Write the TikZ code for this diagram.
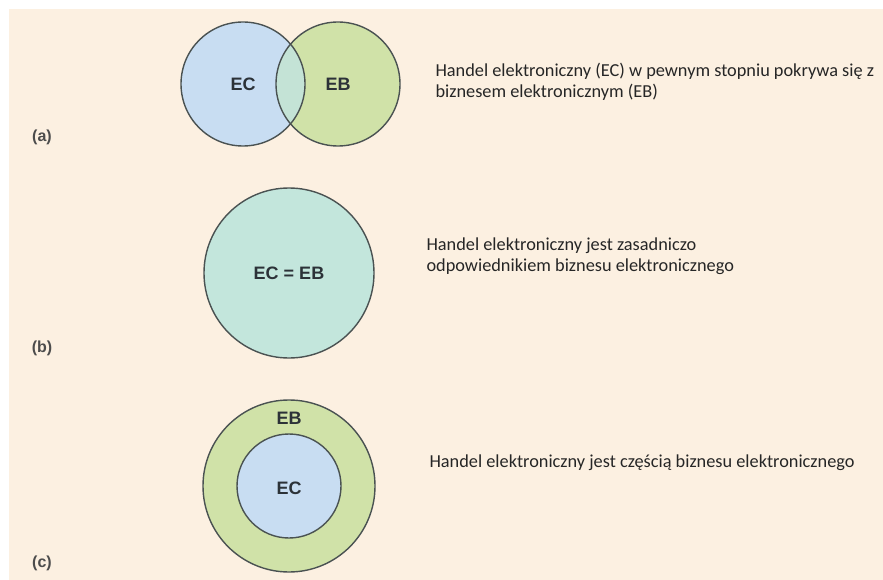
\documentclass[tikz,border=0pt]{standalone}
\usepackage{fontspec}
\setmainfont{Carlito}
\newfontfamily\labelfont{Liberation Sans}
\usepackage{tikz}

\definecolor{tlo}{HTML}{FCF0E1}
\definecolor{niebieski}{HTML}{C8DDF2}
\definecolor{zielony}{HTML}{D0E2A8}
\definecolor{wspolny}{HTML}{C4E3D6}
\definecolor{rowny}{HTML}{C3E6DC}
\definecolor{obrys}{HTML}{4A5252}
\definecolor{napis}{HTML}{2C3238}

\tikzset{
  zbior/.style={draw=obrys,line width=1.4pt},
  etykieta/.style={font=\labelfont\bfseries\fontsize{18}{20}\selectfont,text=napis},
  litera/.style={font=\labelfont\bfseries\fontsize{16}{18}\selectfont,text=black!70},
  opis/.style={font=\fontsize{18.3}{21}\selectfont,text=black!85,align=left,anchor=west}
}

\begin{document}
\begin{tikzpicture}[x=1pt,y=-1pt]
\useasboundingbox (0,0) rectangle (883,580);
\fill[tlo] (9,9) rectangle (883,580);

% (a) EC czesciowo pokrywa sie z EB
\fill[niebieski] (243,84) circle (62);
\fill[zielony] (338,84) circle (62);
\begin{scope}
\clip (243,84) circle (62);
\fill[wspolny] (338,84) circle (62);
\end{scope}
\draw[zbior] (243,84) circle (62);
\draw[zbior] (338,84) circle (62);
\node[etykieta] (ecA) at (243,84) {EC};
\node[etykieta] (ebA) at (338,84) {EB};
\node[litera] (a) at (42,137) {(a)};
\node[opis] (opisA) at (432,82) {Handel elektroniczny (EC) w pewnym stopniu pokrywa się z\\biznesem elektronicznym (EB)};

% (b) EC = EB
\draw[zbior,fill=rowny] (289,273) circle (85);
\node[etykieta] (ecebB) at (289,273) {EC = EB};
\node[litera] (b) at (42,348) {(b)};
\node[opis] (opisB) at (423,256) {Handel elektroniczny jest zasadniczo\\odpowiednikiem biznesu elektronicznego};

% (c) EC czescia EB
\draw[zbior,fill=zielony] (289,486) circle (86);
\draw[zbior,fill=niebieski] (289,486) circle (52);
\node[etykieta] (ebC) at (289,418) {EB};
\node[etykieta] (ecC) at (289,488) {EC};
\node[litera] (c) at (42,563) {(c)};
\node[opis] (opisC) at (426,463) {Handel elektroniczny jest częścią biznesu elektronicznego};
\end{tikzpicture}
\end{document}
